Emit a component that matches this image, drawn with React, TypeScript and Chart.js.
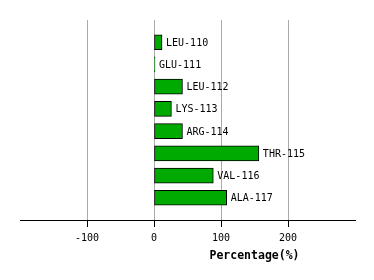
import React, { useEffect, useRef } from "react";
import { Chart, registerables } from "chart.js";

Chart.register(...registerables);

const categories = ["LEU-110", "GLU-111", "LEU-112", "LYS-113", "ARG-114", "THR-115", "VAL-116", "ALA-117"];
const values = [12, 1.5, 42.5, 26, 42.5, 156.5, 88.5, 108.5];
const tickValues = [-100, 0, 100, 200];
const axisTitle = "Percentage(%)";

const FONT = "'DejaVu Sans Mono', monospace";

export default function App() {
  const ref = useRef<HTMLCanvasElement | null>(null);

  useEffect(() => {
    if (!ref.current) return;
    const labels = ["", ...categories, ""];
    const data = [null, ...values, null];

    const labelPlugin = {
      id: "barLabels",
      afterDatasetsDraw(chart: any) {
        const ctx = chart.ctx;
        const meta = chart.getDatasetMeta(0);
        ctx.save();
        ctx.font = `10px ${FONT}`;
        ctx.fillStyle = "#000";
        ctx.textAlign = "left";
        ctx.textBaseline = "middle";
        meta.data.forEach((el: any, i: number) => {
          const v = data[i];
          if (v === null || v === undefined) return;
          ctx.fillText(labels[i], el.x + 4, el.y + 1);
        });
        ctx.restore();
      },
      afterDraw(chart: any) {
        const ctx = chart.ctx;
        const xs = chart.scales.x;
        ctx.save();
        ctx.strokeStyle = "#000";
        ctx.lineWidth = 1;
        const yTop = Math.round(xs.top);
        tickValues.forEach((v) => {
          const px = Math.round(xs.getPixelForValue(v)) + 0.5;
          ctx.beginPath();
          ctx.moveTo(px, yTop);
          ctx.lineTo(px, yTop + 7);
          ctx.stroke();
        });
        ctx.font = `bold 11.5px ${FONT}`;
        ctx.fillStyle = "#000";
        ctx.textAlign = "center";
        ctx.textBaseline = "middle";
        ctx.fillText(axisTitle, xs.getPixelForValue(150), 256);
        ctx.restore();
      },
    };

    const chart = new Chart(ref.current, {
      type: "bar",
      data: {
        labels,
        datasets: [
          {
            data,
            backgroundColor: "#00aa00",
            borderColor: "#000000",
            borderWidth: 1,
            borderSkipped: false,
            barThickness: 15,
          },
        ],
      },
      options: {
        indexAxis: "y",
        animation: false,
        responsive: true,
        maintainAspectRatio: false,
        layout: { padding: { left: 20, right: 19, top: 20, bottom: 0 } },
        plugins: { legend: { display: false }, tooltip: { enabled: false } },
        scales: {
          y: {
            type: "category",
            offset: false,
            display: false,
            grid: { display: false },
          },
          x: {
            type: "linear",
            min: -200,
            max: 300,
            afterFit: (scale: any) => {
              scale.height = 60;
            },
            afterBuildTicks: (scale: any) => {
              scale.ticks = tickValues.map((v) => ({ value: v }));
            },
            border: { display: true, color: "#000", width: 1 },
            grid: {
              color: "#aaaaaa",
              tickLength: 7,
              lineWidth: 1,
              drawTicks: true,
              tickColor: "rgba(0,0,0,0)",
            },
            ticks: {
              color: "#000",
              font: { family: FONT, size: 10 },
              padding: 5,
              maxRotation: 0,
              autoSkip: false,
            },
          },
        },
      },
      plugins: [labelPlugin],
    });
    return () => chart.destroy();
  }, []);

  return (
    <div style={{ position: "absolute", left: 0, top: 0, width: 374, height: 280, background: "#fff" }}>
      <canvas ref={ref} />
    </div>
  );
}
